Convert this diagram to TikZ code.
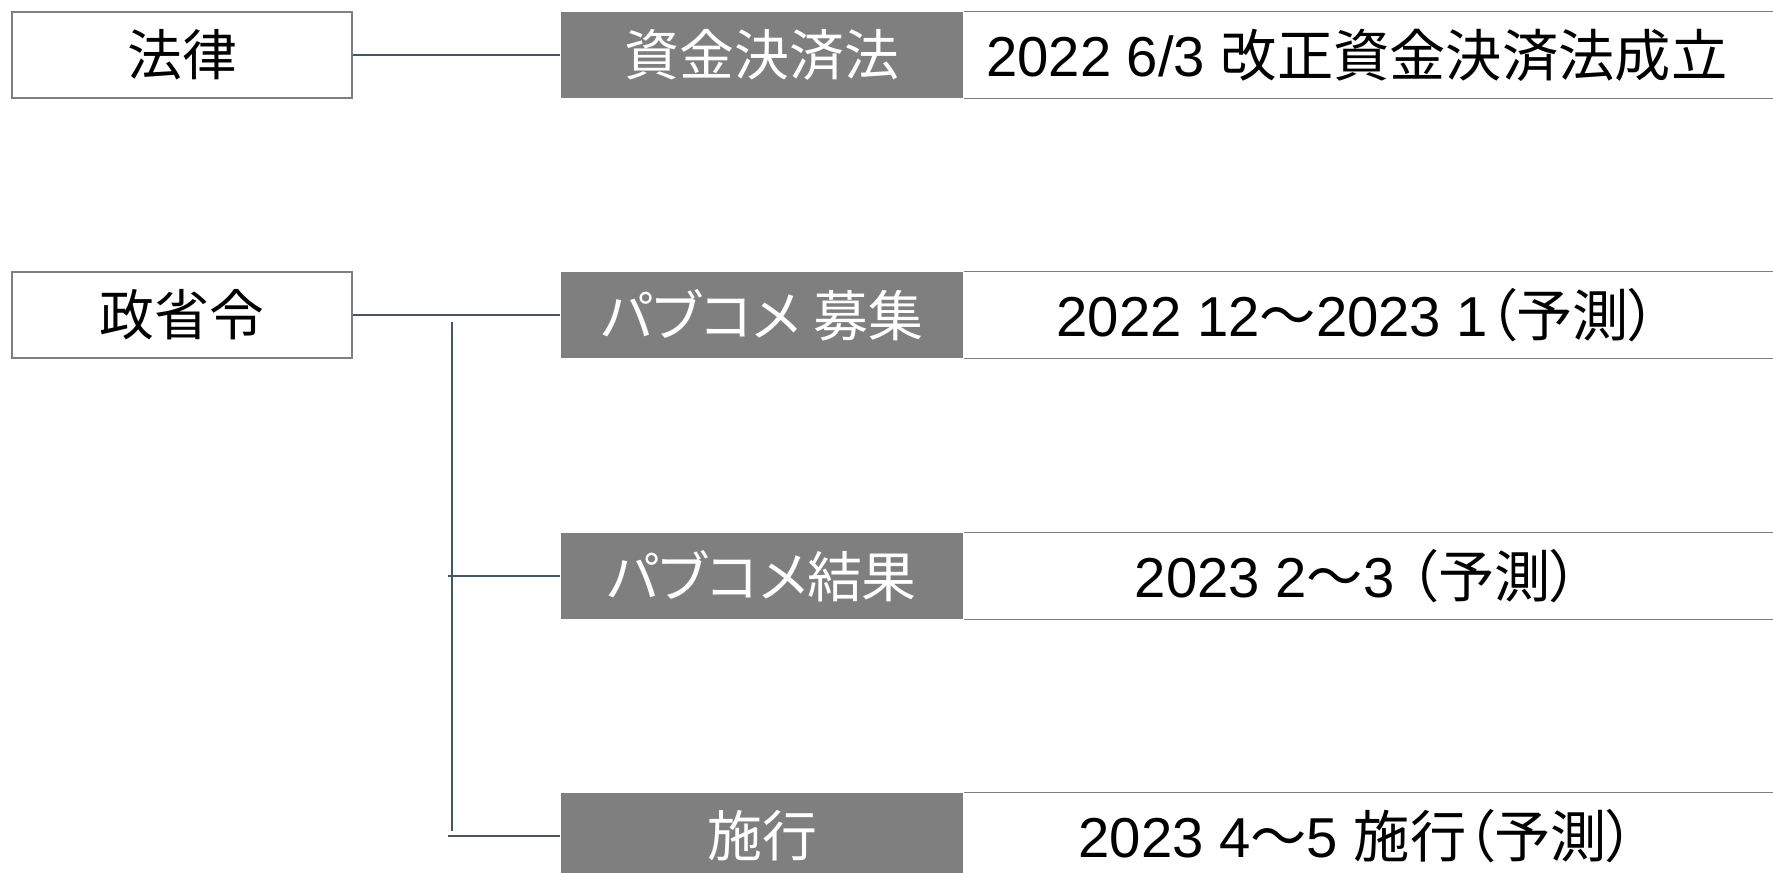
\documentclass[tikz,border=0pt]{standalone}
\usepackage{fontspec}
\usepackage{tikz}
\usetikzlibrary{positioning}
\setmainfont{Liberation Sans}
\newfontfamily\jp[RawFeature=+palt]{Noto Sans CJK JP}
\definecolor{linkblue}{HTML}{44546A}
\definecolor{boxgrey}{HTML}{7F7F7F}
\tikzset{headbox/.style = {draw = boxgrey, line width = 0.4pt, fill = white, minimum width = 3.4cm, minimum height = 0.86cm, inner sep = 0, font = \fontsize{15.6}{18}\selectfont\jp}}
\tikzset{itembox/.style = {fill = boxgrey, text = white, minimum width = 4.02cm, minimum height = 0.86cm, inner sep = 0, font = \fontsize{15.6}{18}\selectfont\jp}}
\tikzset{datebox/.style = {minimum width = 7.84cm, minimum height = 0.86cm, inner sep = 0, font = \fontsize{16}{18}\selectfont}}
\tikzset{link/.style = {draw = linkblue, line width = 0.6pt}}
\begin{document}
\begin{tikzpicture}[x = 0.01cm, y = -0.01cm]
      \clip (0, 0) rectangle (1773, 873);
      \node [headbox] (law) at (182, 55) {法律};
      \node [headbox] (ordinance) at (182, 315) {政省令};
      \node [itembox] (act) at (762, 55) {資金決済法};
      \node [itembox] (pubcall) at (762, 315) {パブコメ 募集};
      \node [itembox] (pubresult) at (762, 576) {パブコメ結果};
      \node [itembox] (enforce) at (762, 836) {施行};
      \node [datebox, right = 0pt of act] (actdate) {2022 6/3 {\jp 改正資金決済法成立}};
      \node [datebox, right = 0pt of pubcall] (calldate) {2022 12{\jp ～}2023 1{\jp （予測）}};
      \node [datebox, right = 0pt of pubresult] (resultdate) {2023 2{\jp ～}3 {\jp （予測）}};
      \node [datebox, right = 0pt of enforce] (enforcedate) {2023 4{\jp ～}5 {\jp 施行（予測）}};
      \foreach \d in {actdate, calldate, resultdate, enforcedate} {
        \draw [boxgrey, line width = 0.4pt] (\d.north west) -- ++(900, 0);
        \draw [boxgrey, line width = 0.4pt] (\d.south west) -- ++(900, 0);
      }
      \coordinate (trunktop) at (452, 322);
      \coordinate (trunkbot) at (452, 831);
      \coordinate (stubresult) at ([xshift = -1.12cm] pubresult.west);
      \coordinate (stubenforce) at ([xshift = -1.12cm] enforce.west);
      \draw [link] (law) -- (act);
      \draw [link] (ordinance) -- (pubcall);
      \draw [link] (trunktop) -- (trunkbot);
      \draw [link] (stubresult) -- (pubresult);
      \draw [link] (stubenforce) -- (enforce);
    \end{tikzpicture}
\end{document}
